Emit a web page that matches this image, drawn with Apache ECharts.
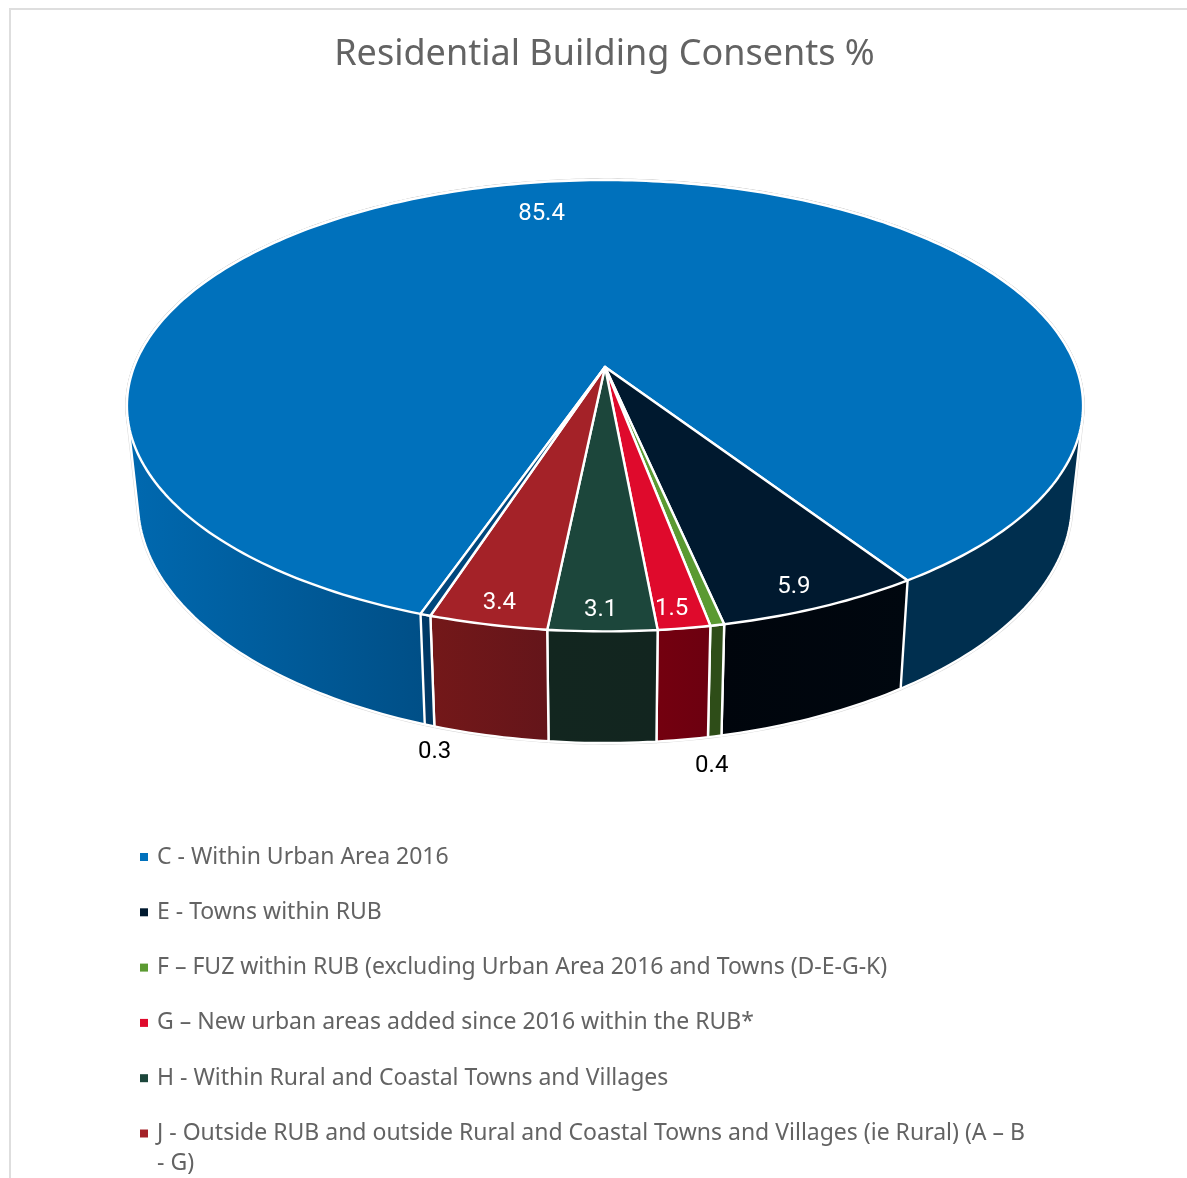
<!DOCTYPE html>
<html>
<head>
<meta charset="utf-8">
<title>Residential Building Consents %</title>
<style>
  html, body { margin: 0; padding: 0; background: #fff; overflow: hidden; }
  #chart { width: 1187px; height: 1178px; }
</style>
<script src="https://cdn.jsdelivr.net/npm/echarts@6/dist/echarts.min.js"></script>
</head>
<body>
<div id="chart"></div>
<script>
// Share of consents per area, in drawing order round the pie.
const categories = [
  'C - Within Urban Area 2016',
  'E - Towns within RUB',
  'F – FUZ within RUB (excluding Urban Area 2016 and Towns (D-E-G-K)',
  'G – New urban areas added since 2016 within the RUB*',
  'H - Within Rural and Coastal Towns and Villages',
  'J - Outside RUB and outside Rural and Coastal Towns and Villages (ie Rural) (A – B\n- G)',
  'K'
];
const shares = [85.4, 5.9, 0.4, 1.5, 3.1, 3.4, 0.3];
const legendCount = 6;

const topColors = ['#0071bc', '#00192f', '#5b9a32', '#df0a2c', '#1c463b', '#a42228', '#00477d'];
const sideColors = [
  [[0, '#0069b0'], [0.31, '#004f87'], [0.32, '#002f4f'], [1, '#002f4f']],
  [[0, '#00050c'], [1, '#00070f']],
  [[0, '#2e4d18'], [1, '#2e4d18']],
  [[0, '#74000f'], [1, '#6c0010']],
  [[0, '#12261f'], [1, '#12251f']],
  [[0, '#741819'], [1, '#64151a']],
  [[0, '#00396a'], [1, '#003860']]
];

// Where each value label sits: which face, radius fraction, pixel nudge, and ink colour.
const labelPlaces = [
  { face: 'top', r: 0.83, dx: -21, dy: 5, fill: '#ffffff' },
  { face: 'top', r: 0.91, dx: -5, dy: 5, fill: '#ffffff' },
  { face: 'bottom', r: 1, dx: -3, dy: 30, fill: '#000000' },
  { face: 'top', r: 0.93, dx: -6, dy: 2, fill: '#ffffff' },
  { face: 'top', r: 0.93, dx: -2, dy: 1, fill: '#ffffff' },
  { face: 'top', r: 0.93, dx: 2, dy: 0, fill: '#ffffff' },
  { face: 'bottom', r: 1, dx: 5, dy: 27, fill: '#000000' }
];

// First slice begins this many degrees left of the nearest point and runs clockwise.
const firstSliceAngle = -19.16;
const perspective = 0.1715;
const total = shares.reduce((a, b) => a + b, 0);

// Projects a point of the unit disc on the upper or lower face into axis units.
function project(deg, r, face) {
  const a = deg * Math.PI / 180;
  const s = r * Math.sin(a);
  const t = r * Math.cos(a);
  const w = 1 - perspective * t;
  if (face === 'top') return [s / w, 0.465 * t / w];
  return [0.977 * s / w, (0.4615 * t + 0.2) / w];
}

function arc(from, to, face) {
  const n = Math.max(2, Math.ceil(Math.abs(to - from)));
  const pts = [];
  for (let i = 0; i <= n; i++) pts.push(project(from + (to - from) * i / n, 1, face));
  return pts;
}

function sweep(api) {
  const from = firstSliceAngle - api.value(1) / total * 360;
  const to = from - api.value(0) / total * 360;
  return [from, to];
}

// Convex outline of a point set, so the wall's straight silhouette edges come out.
function hull(points) {
  const p = points.slice().sort((a, b) => a[0] - b[0] || a[1] - b[1]);
  const cross = (o, a, b) => (a[0] - o[0]) * (b[1] - o[1]) - (a[1] - o[1]) * (b[0] - o[0]);
  const chain = list => {
    const out = [];
    for (const q of list) {
      while (out.length > 1 && cross(out[out.length - 2], out[out.length - 1], q) <= 0) out.pop();
      out.push(q);
    }
    out.pop();
    return out;
  };
  return chain(p).concat(chain(p.slice().reverse()));
}

function sidePoints(api) {
  const [from, to] = sweep(api);
  return hull(arc(from, to, 'top').concat(arc(to, from, 'bottom')).map(p => api.coord(p)));
}

function topPoints(api) {
  const [from, to] = sweep(api);
  return [[0, 0]].concat(arc(from, to, 'top')).map(p => api.coord(p));
}

const rows = shares.map((v, i) => [[v, shares.slice(0, i).reduce((a, b) => a + b, 0)]]);

// Faint halo round the whole solid, visible only against the white page.
const haloSeries = shares.map((v, i) => ({
  type: 'custom', name: 'halo' + i, z: 1, silent: true, data: rows[i],
  renderItem: (params, api) => ({
    type: 'group',
    children: [sidePoints(api), topPoints(api)].map(points => ({
      type: 'polygon',
      shape: { points },
      style: { fill: '#d4d4d4', stroke: '#d4d4d4', lineWidth: 3.2, lineJoin: 'round' }
    }))
  })
}));

const sideSeries = shares.map((v, i) => ({
  type: 'custom', name: 'side' + i, z: 2, silent: true, data: rows[i],
  renderItem: (params, api) => ({
    type: 'polygon',
    shape: { points: sidePoints(api) },
    style: {
      fill: {
        type: 'linear', x: 0, y: 0, x2: 1, y2: 0,
        colorStops: sideColors[i].map(([offset, color]) => ({ offset, color }))
      },
      stroke: '#ffffff', lineWidth: 2.4, lineJoin: 'round'
    }
  })
}));

const topSeries = shares.map((v, i) => ({
  type: 'custom', name: categories[i], z: 3, silent: true, data: rows[i],
  itemStyle: { color: topColors[i] },
  renderItem: (params, api) => {
    const [from, to] = sweep(api);
    const place = labelPlaces[i];
    const anchor = api.coord(project((from + to) / 2, place.r, place.face));
    return {
      type: 'group',
      children: [
        {
          type: 'polygon',
          shape: { points: topPoints(api) },
          style: { fill: topColors[i], stroke: '#ffffff', lineWidth: 2.4, lineJoin: 'round' }
        },
        {
          type: 'text', z2: 10,
          x: anchor[0] + place.dx, y: anchor[1] + place.dy,
          style: {
            text: String(api.value(0)), fill: place.fill,
            font: '24px Roboto', align: 'center', verticalAlign: 'middle'
          }
        }
      ]
    };
  }
}));

const chart = echarts.init(document.getElementById('chart'), null, { renderer: 'canvas' });
chart.setOption({
  animation: false,
  backgroundColor: '#ffffff',
  title: {
    text: 'Residential Building Consents %',
    left: 599.5, top: 32, textAlign: 'center',
    textStyle: { fontFamily: 'Noto Sans', fontSize: 36, fontWeight: 'normal', color: '#636363' }
  },
  // Hidden axes in projected disc units: the centre of the pie is their origin.
  grid: { left: 110.45, width: 989.1, top: 131.5, height: 706.5 },
  xAxis: { type: 'value', show: false, min: -1.05, max: 1.05 },
  yAxis: { type: 'value', show: false, min: -0.5, max: 1, inverse: true },
  legend: {
    orient: 'vertical', left: 140, top: 845, padding: 0,
    itemWidth: 8, itemHeight: 8, itemGap: 31.3, icon: 'rect',
    data: categories.slice(0, legendCount),
    formatter: name => name.split('\n')[0],
    textStyle: {
      fontFamily: 'Noto Sans', fontSize: 23, lineHeight: 24, color: '#636363',
      padding: [0, 0, 0, 4]
    }
  },
  graphic: [
    {
      type: 'rect', z: 0, silent: true,
      shape: { x: 10, y: 9, width: 1400, height: 1400 },
      style: { fill: 'none', stroke: '#dedede', lineWidth: 2 }
    },
    {
      type: 'text', silent: true, x: 157, y: 1163,
      style: {
        text: categories[5].split('\n')[1], fill: '#636363',
        font: '23px "Noto Sans"', verticalAlign: 'middle'
      }
    }
  ],
  series: [...haloSeries, ...sideSeries, ...topSeries]
});
</script>
</body>
</html>
